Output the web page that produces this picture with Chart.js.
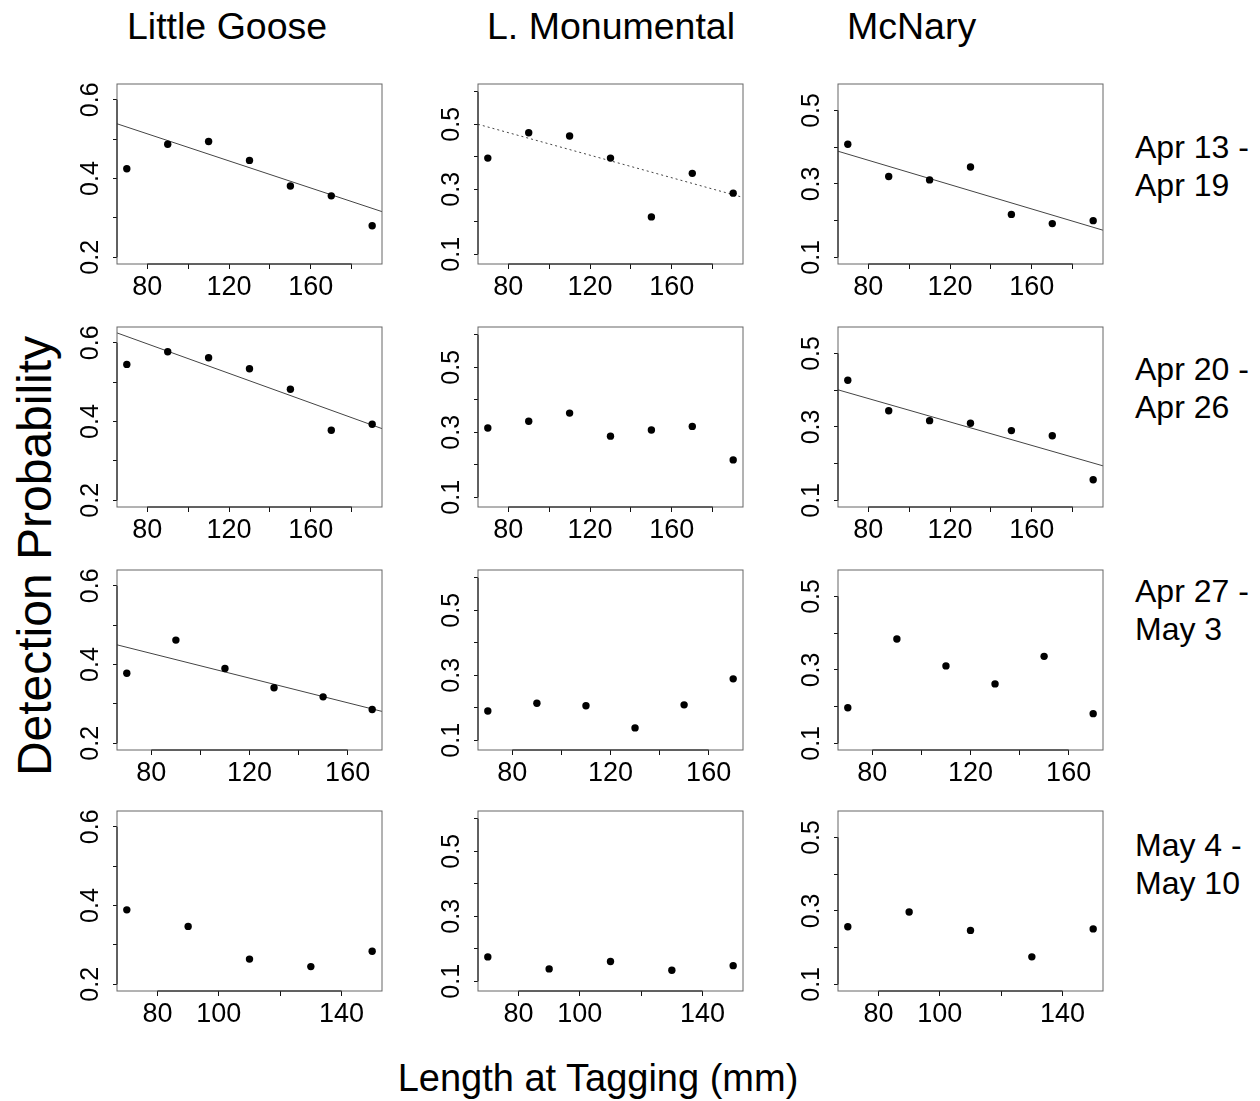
<!DOCTYPE html>
<html><head><meta charset="utf-8">
<script src="https://cdn.jsdelivr.net/npm/chart.js@4"></script>
<style>
body{margin:0;background:#fff;width:1260px;height:1101px;position:relative;overflow:hidden;font-family:"Liberation Sans",Arial,Helvetica,sans-serif;}
.t{position:absolute;white-space:nowrap;line-height:1;color:#000;}
canvas{position:absolute;}
</style></head><body>
<script>
// ---------- DATA ----------
const sites = ['Little Goose', 'L. Monumental', 'McNary'];
const periods = [['Apr 13 -', 'Apr 19'], ['Apr 20 -', 'Apr 26'], ['Apr 27 -', 'May 3'], ['May 4 -', 'May 10']];
const yAxisTitle = 'Detection Probability';
const xAxisTitle = 'Length at Tagging (mm)';

// Length classes (mm) per period
const lengthsApr13 = [70, 90, 110, 130, 150, 170, 190];
const lengthsApr20 = [70, 90, 110, 130, 150, 170, 190];
const lengthsApr27 = [70, 90, 110, 130, 150, 170];
const lengthsMay4  = [70, 90, 110, 130, 150];

// Detection probabilities
const lgApr13 = [0.425, 0.487, 0.494, 0.446, 0.381, 0.356, 0.280];
const lmApr13 = [0.396, 0.474, 0.464, 0.396, 0.215, 0.349, 0.288];
const mnApr13 = [0.408, 0.320, 0.311, 0.346, 0.217, 0.192, 0.200];
const lgApr20 = [0.545, 0.577, 0.562, 0.534, 0.482, 0.378, 0.393];
const lmApr20 = [0.313, 0.334, 0.359, 0.288, 0.307, 0.318, 0.215];
const mnApr20 = [0.427, 0.344, 0.317, 0.310, 0.290, 0.276, 0.156];
const lgApr27 = [0.378, 0.462, 0.390, 0.341, 0.318, 0.286];
const lmApr27 = [0.190, 0.214, 0.206, 0.138, 0.209, 0.289];
const mnApr27 = [0.197, 0.384, 0.311, 0.262, 0.337, 0.181];
const lgMay4  = [0.389, 0.347, 0.264, 0.245, 0.284];
const lmMay4  = [0.175, 0.138, 0.161, 0.134, 0.148];
const mnMay4  = [0.257, 0.297, 0.247, 0.175, 0.251];

// Fitted trend lines: value at the left and right end of the x range (null = none)
const lgApr13Fit = [0.539, 0.316];
const lmApr13Fit = [0.500, 0.275];
const mnApr13Fit = [0.389, 0.174];
const lgApr20Fit = [0.625, 0.382];
const mnApr20Fit = [0.401, 0.194];
const lgApr27Fit = [0.450, 0.281];

// x-axis ranges per period
const xRangeApr13 = [65.2, 194.8];
const xRangeApr20 = [65.2, 194.8];
const xRangeApr27 = [66, 174];
const xRangeMay4  = [66.8, 153.2];

// y-axis ranges per site
const yRangeLG = [0.183, 0.640];
const yRangeLM = [0.070, 0.624];
const yRangeMN = [0.082, 0.572];

// tick values and labelled ticks
const xTicksLong  = [80, 100, 120, 140, 160, 180];
const xTicksMid   = [80, 100, 120, 140, 160];
const xTicksShort = [80, 100, 120, 140];
const xLabelsLong  = [80, 120, 160];
const xLabelsShort = [80, 100, 140];
const yTicksLG = [0.2, 0.3, 0.4, 0.5, 0.6];
const yTicksLM = [0.1, 0.2, 0.3, 0.4, 0.5, 0.6];
const yTicksMN = [0.1, 0.2, 0.3, 0.4, 0.5];
const yLabelsLG = [0.2, 0.4, 0.6];
const yLabelsLM = [0.1, 0.3, 0.5];
const yLabelsMN = [0.1, 0.3, 0.5];

// ---------- PANEL DEFINITIONS ----------
const rowDefs = [
  {x: lengthsApr13, xr: xRangeApr13, xt: xTicksLong,  xl: xLabelsLong,  ys: [lgApr13, lmApr13, mnApr13], fits: [lgApr13Fit, lmApr13Fit, mnApr13Fit], dotted: [false, true, false]},
  {x: lengthsApr20, xr: xRangeApr20, xt: xTicksLong,  xl: xLabelsLong,  ys: [lgApr20, lmApr20, mnApr20], fits: [lgApr20Fit, null, mnApr20Fit], dotted: [false, false, false]},
  {x: lengthsApr27, xr: xRangeApr27, xt: xTicksMid,   xl: xLabelsLong,  ys: [lgApr27, lmApr27, mnApr27], fits: [lgApr27Fit, null, null], dotted: [false, false, false]},
  {x: lengthsMay4,  xr: xRangeMay4,  xt: xTicksShort, xl: xLabelsShort, ys: [lgMay4, lmMay4, mnMay4],    fits: [null, null, null], dotted: [false, false, false]}
];
const colDefs = [
  {yr: yRangeLG, yt: yTicksLG, yl: yLabelsLG},
  {yr: yRangeLM, yt: yTicksLM, yl: yLabelsLM},
  {yr: yRangeMN, yt: yTicksMN, yl: yLabelsMN}
];

// ---------- LAYOUT ----------
const FONT = '"Liberation Sans", Arial, Helvetica, sans-serif';
const boxLeft = [117, 478, 838];
const boxTop = [84, 327, 570, 811];
const BOX_W = 265, BOX_H = 180;
const YW = 75, XH = 50, PT = 6, PR = 10;

function addText(txt, css) {
  const d = document.createElement('div');
  d.className = 't';
  d.innerHTML = txt;
  Object.assign(d.style, css);
  document.body.appendChild(d);
  return d;
}

const colTitleLeft = [127, 487, 847];
sites.forEach((s, i) => addText(s, {left: colTitleLeft[i] + 'px', top: '27px', fontSize: '37.5px', transform: 'translateY(-50%)'}));
const rowLabelCenter = [166, 388, 610, 864];
periods.forEach((p, i) => addText(p.join('<br>'), {left: '1135px', top: rowLabelCenter[i] + 'px', fontSize: '32px', lineHeight: '38px', transform: 'translateY(-50%)'}));
addText(yAxisTitle, {left: '35px', top: '556px', fontSize: '48px', transform: 'translate(-50%,-50%) rotate(-90deg)'});
addText(xAxisTitle, {left: '598px', top: '1078px', fontSize: '38px', transform: 'translate(-50%,-50%)'});

const boxPlugin = {
  id: 'rbox',
  afterDraw(chart) {
    const {ctx, chartArea: a, scales: {x, y}} = chart;
    ctx.save();
    ctx.lineWidth = 1;
    ctx.strokeStyle = '#666';
    ctx.strokeRect(a.left, a.top, a.right - a.left, a.bottom - a.top);
    ctx.strokeStyle = '#111';
    ctx.beginPath();
    const xt = x.ticks, yt = y.ticks;
    ctx.moveTo(x.getPixelForValue(xt[0].value), a.bottom);
    ctx.lineTo(x.getPixelForValue(xt[xt.length - 1].value), a.bottom);
    ctx.moveTo(a.left, y.getPixelForValue(yt[0].value));
    ctx.lineTo(a.left, y.getPixelForValue(yt[yt.length - 1].value));
    ctx.stroke();
    ctx.restore();
  }
};

rowDefs.forEach((row, r) => {
  colDefs.forEach((col, c) => {
    const cv = document.createElement('canvas');
    cv.width = YW + BOX_W + PR;
    cv.height = PT + BOX_H + XH;
    cv.style.left = (boxLeft[c] - YW) + 'px';
    cv.style.top = (boxTop[r] - PT) + 'px';
    document.body.appendChild(cv);
    const ys = row.ys[c];
    const datasets = [{
      type: 'scatter',
      data: row.x.map((xv, i) => ({x: xv, y: ys[i]})),
      pointRadius: 3.7, pointBorderWidth: 0,
      backgroundColor: '#000', borderColor: '#000', order: 1
    }];
    const fit = row.fits[c];
    if (fit) {
      datasets.push({
        type: 'line',
        data: [{x: row.xr[0], y: fit[0]}, {x: row.xr[1], y: fit[1]}],
        borderColor: '#444', borderWidth: 1, pointRadius: 0, fill: false,
        borderDash: row.dotted[c] ? [2, 3] : [], order: 2
      });
    }
    new Chart(cv, {
      type: 'scatter',
      data: {datasets},
      options: {
        responsive: false, animation: false, events: [],
        layout: {padding: {left: 0, top: PT, right: PR, bottom: 0}},
        plugins: {legend: {display: false}, tooltip: {enabled: false}},
        scales: {
          x: {
            type: 'linear', position: 'bottom', min: row.xr[0], max: row.xr[1],
            afterBuildTicks: s => { s.ticks = row.xt.map(v => ({value: v})); },
            ticks: {callback: v => row.xl.includes(v) ? String(v) : '', font: {family: FONT, size: 27}, color: '#000', padding: 2, maxRotation: 0, minRotation: 0, autoSkip: false},
            grid: {display: true, drawOnChartArea: false, drawTicks: true, tickLength: 5, color: '#111', lineWidth: 1},
            border: {display: false},
            afterFit: s => { s.height = XH; s.paddingLeft = 0; s.paddingRight = 0; }
          },
          y: {
            type: 'linear', position: 'left', min: col.yr[0], max: col.yr[1],
            afterBuildTicks: s => { s.ticks = col.yt.map(v => ({value: v})); },
            ticks: {callback: v => col.yl.includes(v) ? String(v) : '', font: {family: FONT, size: 25}, color: '#000', padding: 5, minRotation: 90, maxRotation: 90, crossAlign: 'center', autoSkip: false},
            grid: {display: true, drawOnChartArea: false, drawTicks: true, tickLength: 4, color: '#111', lineWidth: 1},
            border: {display: false},
            afterFit: s => { s.width = YW; s.paddingTop = 0; s.paddingBottom = 0; }
          }
        }
      },
      plugins: [boxPlugin]
    });
  });
});
</script>
</body></html>
